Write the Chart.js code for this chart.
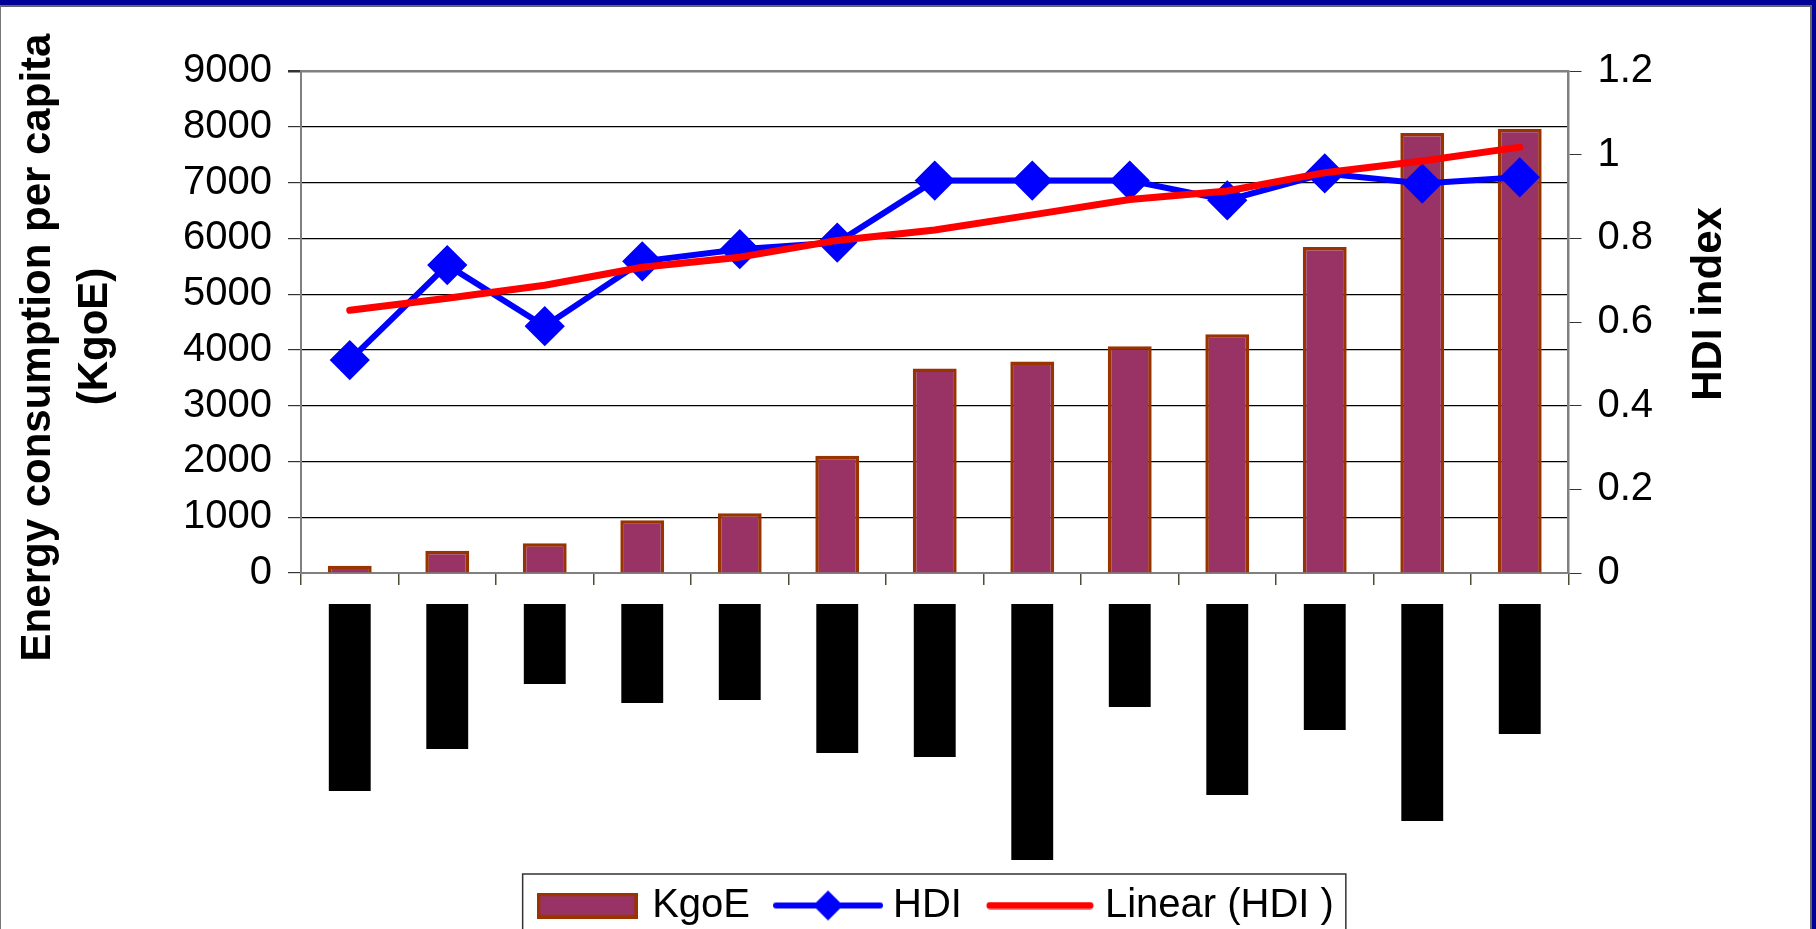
<!DOCTYPE html>
<html>
<head>
<meta charset="utf-8">
<title>Energy consumption per capita and HDI</title>
<script src="https://cdn.jsdelivr.net/npm/chart.js@4.4.1/dist/chart.umd.min.js"></script>
<style>
  html, body { margin: 0; padding: 0; overflow: hidden; background: #fff; width: 1816px; height: 929px; }
  #chart { position: absolute; left: 0; top: 0; width: 1816px; height: 929px; }
  #frame { position: absolute; left: 0; top: 0; width: 1816px; height: 929px; box-sizing: border-box;
           border-top: 5px solid #000096; border-right: 4px solid #000096; pointer-events: none; }
  #frame div { width: 100%; height: 100%; box-sizing: border-box;
               border-top: 2px solid #666; border-right: 2px solid #666; border-left: 1px solid #777; }
</style>
</head>
<body>
<canvas id="chart" width="1816" height="929"></canvas>
<div id="frame"><div></div></div>
<script>
// category names are blacked out in the original, only their box length is known
var categories = ['C1', 'C2', 'C3', 'C4', 'C5', 'C6', 'C7', 'C8', 'C9', 'C10', 'C11', 'C12', 'C13'];
var hiddenLabelLen = [187, 145, 80, 99, 96, 149, 153, 256, 103, 191, 126, 217, 130];

var kgoe = [130, 400, 535, 945, 1070, 2100, 3665, 3790, 4065, 4280, 5845, 7890, 7965];
var hdi = [0.509, 0.736, 0.590, 0.745, 0.774, 0.790, 0.938, 0.938, 0.938, 0.891, 0.955, 0.931, 0.946];
var linearHdi = [0.628, 0.657, 0.688, 0.731, 0.755, 0.795, 0.820, 0.856, 0.893, 0.913, 0.957, 0.985, 1.018];

var leftTicks = [0, 1000, 2000, 3000, 4000, 5000, 6000, 7000, 8000, 9000];
var rightTicks = [0, 0.2, 0.4, 0.6, 0.8, 1, 1.2];

var leftTitle = ['Energy consumption per capita', '(KgoE)'];
var rightTitle = 'HDI index';

var FONT = "'Liberation Sans', Arial, sans-serif";

// legend icons
function makeIcon(w, h, draw) {
  var c = document.createElement('canvas');
  c.width = w;
  c.height = h;
  draw(c.getContext('2d'));
  return c;
}
var legendIcons = [
  makeIcon(101, 26, function (g) {
    g.fillStyle = '#993366';
    g.fillRect(0, 0, 101, 26);
    g.strokeStyle = '#993300';
    g.lineWidth = 3.5;
    g.strokeRect(1.75, 1.75, 97.5, 22.5);
  }),
  makeIcon(110, 34, function (g) {
    g.strokeStyle = '#0000ff';
    g.lineWidth = 6;
    g.lineCap = 'round';
    g.beginPath();
    g.moveTo(3, 17);
    g.lineTo(107, 17);
    g.stroke();
    g.fillStyle = '#0000ff';
    g.beginPath();
    g.moveTo(55, 2);
    g.lineTo(70, 17);
    g.lineTo(55, 32);
    g.lineTo(40, 17);
    g.closePath();
    g.fill();
  }),
  makeIcon(108, 8, function (g) {
    g.strokeStyle = '#ff0000';
    g.lineWidth = 7;
    g.lineCap = 'round';
    g.beginPath();
    g.moveTo(4, 4);
    g.lineTo(104, 4);
    g.stroke();
  })
];

var hiddenLabels = {
  id: 'hiddenLabels',
  afterDraw: function (chart) {
    var ctx = chart.ctx;
    var xs = chart.scales.x;
    var bars = chart.getDatasetMeta(0).data;
    ctx.save();
    ctx.fillStyle = '#000';
    for (var i = 0; i < categories.length; i++) {
      var cx = xs.getPixelForValue(i);
      var w = bars[i].width - 2;
      ctx.fillRect(cx - w / 2, xs.top + 31, w, hiddenLabelLen[i]);
    }
    ctx.restore();
  }
};

// excel puts the axis titles reading bottom-to-top on both sides
var axisTitles = {
  id: 'axisTitles',
  afterDraw: function (chart) {
    var ctx = chart.ctx;
    var y1 = chart.scales.y1;
    ctx.save();
    ctx.fillStyle = '#000';
    ctx.font = 'bold 42px ' + FONT;
    ctx.textAlign = 'center';
    ctx.textBaseline = 'alphabetic';

    var rows = [[50, 347.5], [107, 336.5]];
    for (var i = 0; i < leftTitle.length; i++) {
      ctx.save();
      ctx.translate(rows[i][0], rows[i][1]);
      ctx.rotate(-Math.PI / 2);
      ctx.fillText(leftTitle[i], 0, 0);
      ctx.restore();
    }

    ctx.translate(y1.left + 152, 304);
    ctx.rotate(-Math.PI / 2);
    ctx.fillText(rightTitle, 0, 0);
    ctx.restore();
  }
};

var legendFrame = {
  id: 'legendFrame',
  afterDraw: function (chart) {
    var boxes = chart.legend.legendHitBoxes;
    if (!boxes || !boxes.length) return;
    var first = boxes[0];
    var last = boxes[boxes.length - 1];
    var x0 = first.left - 19.5;
    var x1 = last.left + last.width + 12;
    var y0 = first.top - 11.5;
    var ctx = chart.ctx;
    ctx.save();
    ctx.strokeStyle = '#333';
    ctx.lineWidth = 1.5;
    ctx.strokeRect(x0, y0, x1 - x0, chart.height + 20 - y0);
    ctx.restore();
  }
};

var ctx = document.getElementById('chart').getContext('2d');
var myChart = new Chart(ctx, {
  type: 'bar',
  data: {
    labels: categories,
    datasets: [{
      type: 'bar',
      label: 'KgoE',
      data: kgoe,
      yAxisID: 'y',
      backgroundColor: '#993366',
      borderColor: '#993300',
      borderWidth: 3.5,
      barPercentage: 0.45,
      categoryPercentage: 1,
      order: 3
    }, {
      type: 'line',
      label: 'HDI',
      data: hdi,
      yAxisID: 'y1',
      borderColor: '#0000ff',
      borderWidth: 6,
      tension: 0,
      pointStyle: 'rectRot',
      pointRadius: 18,
      pointBorderWidth: 3,
      pointBackgroundColor: '#0000ff',
      pointBorderColor: '#0000ff',
      order: 2
    }, {
      type: 'line',
      label: 'Linear (HDI )',
      data: linearHdi,
      yAxisID: 'y1',
      borderColor: '#ff0000',
      borderWidth: 7,
      borderCapStyle: 'round',
      borderJoinStyle: 'round',
      tension: 0,
      pointRadius: 0,
      order: 1
    }]
  },
  options: {
    responsive: false,
    devicePixelRatio: 1,
    animation: false,
    events: [],
    layout: { padding: { left: 68, right: 8, top: 71, bottom: -6.5 } },
    plugins: {
      tooltip: { enabled: false },
      legend: {
        position: 'bottom',
        labels: {
          usePointStyle: true,
          pointStyleWidth: 90,
          padding: 33,
          color: '#000',
          font: { size: 40, family: FONT },
          sort: function (a, b) { return a.datasetIndex - b.datasetIndex; },
          generateLabels: function (chart) {
            var items = Chart.defaults.plugins.legend.labels.generateLabels(chart);
            items.forEach(function (it) { it.pointStyle = legendIcons[it.datasetIndex]; });
            return items;
          }
        }
      }
    },
    scales: {
      x: {
        grid: { offset: true, drawOnChartArea: false, tickLength: 12, color: '#4d4d33', lineWidth: 1.5 },
        border: { color: '#808080', width: 2 },
        ticks: { display: false },
        afterFit: function (scale) { scale.height = 279.5; }
      },
      y: {
        position: 'left',
        min: 0,
        max: 9000,
        afterBuildTicks: function (scale) { scale.ticks = leftTicks.map(function (v) { return { value: v }; }); },
        ticks: {
          padding: 16,
          color: '#000',
          font: { size: 40, family: FONT },
          callback: function (value) { return String(value); }
        },
        grid: {
          color: function (c) { return c.tick && c.tick.value === 9000 ? '#808080' : '#000'; },
          lineWidth: function (c) { return c.tick && c.tick.value === 9000 ? 2.5 : 1.2; },
          tickColor: '#333',
          tickLength: 13
        },
        border: { color: '#808080', width: 2 },
        afterFit: function (scale) { scale.width = 233; }
      },
      y1: {
        position: 'right',
        min: 0,
        max: 1.2,
        afterBuildTicks: function (scale) { scale.ticks = rightTicks.map(function (v) { return { value: v }; }); },
        ticks: {
          padding: 16,
          color: '#000',
          font: { size: 40, family: FONT },
          callback: function (value) { return String(Number(value.toFixed(1))); }
        },
        grid: { drawOnChartArea: false, tickLength: 13, color: '#333' },
        border: { color: '#808080', width: 2.5 },
        afterFit: function (scale) { scale.width = 239.5; }
      }
    }
  },
  plugins: [hiddenLabels, axisTitles, legendFrame]
});
</script>
</body>
</html>
